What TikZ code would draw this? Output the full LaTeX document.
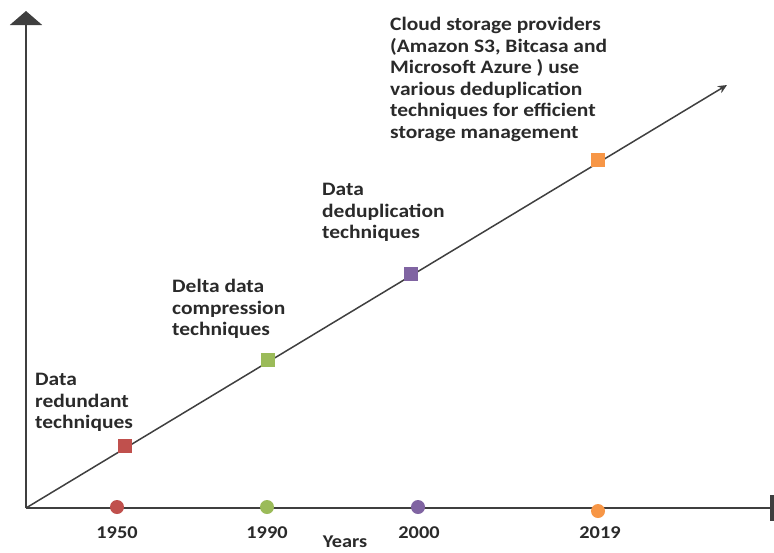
\documentclass[tikz,border=0pt]{standalone}
\usepackage{fontspec}
\setmainfont{Carlito}[FakeStretch=1.13]
\usetikzlibrary{arrows.meta}
\definecolor{axisgray}{HTML}{3F3F3F}
\definecolor{txtgray}{HTML}{2A2A2A}
\definecolor{mkred}{HTML}{C0504D}
\definecolor{mkgreen}{HTML}{9BBB59}
\definecolor{mkpurple}{HTML}{8064A2}
\definecolor{mkorange}{HTML}{F79646}
\begin{document}
\begin{tikzpicture}[x=1pt, y=-1pt,
  mark box/.style = {rectangle, minimum size=14pt, inner sep=0pt},
  mark dot/.style = {circle, minimum size=14pt, inner sep=0pt},
  event/.style = {anchor=north west, align=left, inner sep=0pt,
    text=txtgray, font=\bfseries\fontsize{19}{21.6}\selectfont},
  year/.style = {anchor=base, inner sep=0pt,
    text=txtgray, font=\bfseries\fontsize{18}{20}\selectfont}]
  \useasboundingbox (0,0) rectangle (774,552);
  % axes
  \coordinate (origin) at (26,508);
  \coordinate (ytop) at (26,11);
  \coordinate (xend) at (774,508);
  \coordinate (trend) at (727,85);
  \draw[axisgray, line width=2pt, -{Triangle[width=32pt,length=14pt]}] (origin) -- (ytop);
  \draw[axisgray, line width=2pt, -{Rectangle[length=4pt,width=26pt]}] (origin) -- (xend);
  \draw[axisgray, line width=1.5pt, -{Stealth[length=9pt,width=8pt,open]}] (origin) -- (trend);
  % milestones on the trend line
  \node[mark box, fill=mkred]    (sq1950) at (125,446) {};
  \node[mark box, fill=mkgreen]  (sq1990) at (268,360) {};
  \node[mark box, fill=mkpurple] (sq2000) at (411,274) {};
  \node[mark box, fill=mkorange] (sq2019) at (598,160) {};
  % dots on the time axis
  \node[mark dot, fill=mkred]    (pt1950) at (117,507) {};
  \node[mark dot, fill=mkgreen]  (pt1990) at (267,507) {};
  \node[mark dot, fill=mkpurple] (pt2000) at (418,507) {};
  \node[mark dot, fill=mkorange] (pt2019) at (598,511) {};
  % years
  \node[year] (y1950) at (117,538) {1950};
  \node[year] (y1990) at (267,538) {1990};
  \node[year] (y2000) at (419,538) {2000};
  \node[year] (y2019) at (600,538) {2019};
  \node[year] (years) at (345,547) {Years};
  % events
  \node[event] (redundant) at (35,373) {Data\\redundant\\techniques};
  \node[event] (delta) at (172,279) {Delta data\\compression\\techniques};
  \node[event] (dedup) at (322,183) {Data\\deduplication\\techniques};
  \node[event] (cloud) at (390,17) {Cloud storage providers\\(Amazon S3, Bitcasa and\\Microsoft Azure ) use\\various deduplication\\techniques for efficient\\storage management};
\end{tikzpicture}
\end{document}
